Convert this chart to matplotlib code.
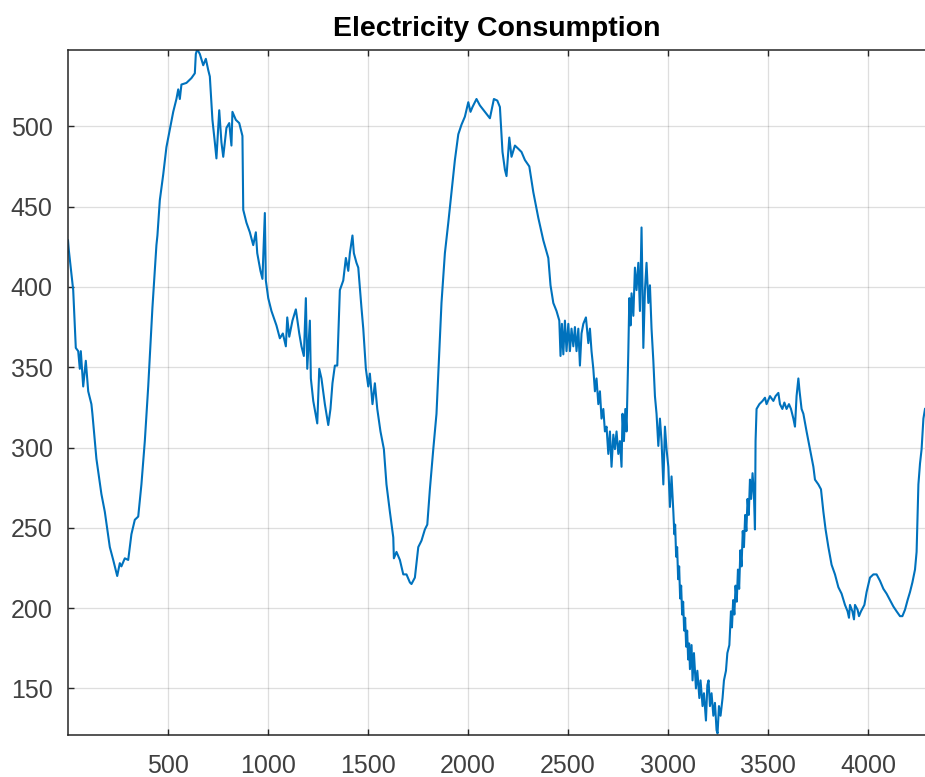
import matplotlib
matplotlib.use("Agg")
import matplotlib.pyplot as plt

# sample index and consumption
sample = [
    1, 5, 27, 40, 52, 60, 65, 77, 90, 102, 118, 123, 143, 168, 185, 210, 227, 247,
    260, 268, 285, 302, 318, 335, 352, 368, 385, 402, 423, 443, 448, 460, 477, 493,
    510, 527, 543, 552, 560, 568, 593, 618, 635, 640, 647,
    660, 677, 690, 702, 710, 723, 735, 743, 757, 768, 777, 793, 807, 818, 823, 840,
    857, 873, 877, 893, 910, 927, 940, 947, 963, 973, 985, 990, 1002, 1018, 1043,
    1060, 1075, 1090, 1097, 1107, 1123, 1140, 1157, 1168, 1180, 1190, 1197, 1210,
    1215, 1227, 1247, 1257, 1268, 1285, 1302, 1313, 1323, 1335, 1347,
    1360, 1377, 1390, 1402, 1410, 1423, 1430, 1443, 1452, 1468, 1477, 1490, 1502,
    1510, 1523, 1535, 1547, 1563, 1580, 1593, 1610, 1627, 1630, 1643, 1660, 1677,
    1693, 1710, 1718, 1735, 1752, 1768, 1785, 1797, 1810, 1827, 1843, 1857, 1868,
    1885, 1902, 1918, 1935, 1952, 1968, 1985, 2002, 2013, 2023, 2043,
    2060, 2085, 2110, 2130, 2147, 2160, 2173, 2185, 2193, 2207, 2218, 2235, 2252,
    2268, 2285, 2307, 2327, 2352, 2377, 2402, 2413, 2427, 2443, 2457, 2463, 2470,
    2477, 2485, 2493, 2502, 2510, 2518, 2527, 2535, 2543, 2552, 2560, 2568, 2577,
    2590, 2602, 2610, 2618, 2627, 2635, 2643, 2652, 2660, 2668, 2677, 2685, 2693,
    2702, 2710, 2718, 2727, 2735, 2743, 2752,
    2760, 2768, 2773, 2780, 2787, 2793, 2802, 2807, 2813, 2818, 2827, 2835, 2843,
    2852, 2860, 2868, 2873, 2877, 2885, 2893, 2902, 2910, 2918, 2927, 2935, 2943,
    2952, 2960, 2968, 2977, 2985, 2993, 3002, 3010, 3018,
    3027, 3032, 3036, 3041, 3046, 3051, 3056, 3061, 3066, 3071, 3076, 3081, 3086,
    3091, 3096, 3101, 3106, 3110,
    3118, 3123, 3130, 3140, 3147, 3157,
    3163, 3173, 3180, 3190, 3197, 3203, 3210, 3218, 3227, 3235, 3243, 3248, 3255,
    3263, 3273, 3280, 3290, 3297, 3307,
    3310, 3315, 3320, 3326, 3332, 3338, 3344, 3350, 3356, 3362, 3368, 3374, 3380,
    3386, 3392, 3398, 3404, 3410, 3416, 3423, 3430,
    3435, 3438, 3443, 3457, 3473,
    3485, 3493, 3510, 3527, 3538, 3552, 3560, 3572, 3582, 3593, 3605, 3615, 3627,
    3635, 3643, 3652, 3658, 3668, 3677, 3693, 3710, 3727, 3735, 3752, 3765, 3777,
    3788, 3802, 3818, 3835, 3852, 3868, 3885, 3898, 3905, 3910, 3922, 3930, 3935,
    3948, 3955, 3965, 3982, 3993, 4010, 4027, 4043, 4060, 4077, 4093, 4110, 4127,
    4143, 4160, 4172, 4185, 4198, 4210, 4222, 4235, 4243, 4252, 4260, 4268, 4277,
    4285,
]
consumption = [
    429, 423, 398, 362, 360, 349, 360, 338, 354, 335, 327, 321, 293, 271, 260, 238, 230, 220,
    228, 226, 231, 230, 246, 255, 257, 277, 304, 338, 387, 426, 432, 454, 470, 487,
    498, 509, 517, 523, 517, 526, 527, 530, 533, 545, 548,
    545, 538, 542, 535, 531, 504, 490, 480, 510, 490, 481, 499, 502, 488, 509, 504,
    502, 494, 448, 440, 434, 426, 434, 421, 410, 405, 446, 404, 393, 385, 376,
    368, 371, 363, 381, 369, 379, 386, 371, 363, 357, 393, 349, 379,
    343, 329, 315, 349, 343, 327, 314, 324, 340, 351, 351,
    398, 404, 418, 410, 421, 432, 421, 415, 412, 387, 374, 349, 338,
    346, 327, 340, 324, 310, 299, 277, 260, 244, 231, 235, 230, 221,
    221, 216, 215, 219, 238, 242, 249, 252, 274, 299, 321, 360, 390,
    421, 440, 459, 479, 495, 501, 506, 515, 509, 512, 517,
    513, 509, 505, 517, 516, 512, 484, 473, 469, 493, 481, 488, 486,
    484, 479, 475, 459, 443, 429, 418, 401, 390, 385, 379, 357, 377,
    358, 379, 360, 377, 360, 374, 363, 375, 360, 374, 351, 371, 377,
    381, 365, 374, 360, 349, 335, 343, 327, 335, 318, 324, 310, 313,
    296, 310, 288, 308, 299, 310, 296,
    304, 288, 321, 304, 324, 310, 360, 393, 376, 396, 382, 412, 398,
    415, 385, 437, 398, 362, 398, 415, 390, 401, 374, 354, 332, 321,
    301, 318, 304, 277, 313, 299, 288, 263, 282,
    260, 246, 252, 232, 238, 218, 226, 206, 214, 196, 204, 186, 194,
    176, 186, 168, 178, 162,
    177, 155, 172, 150, 161, 144,
    155, 139, 147, 130, 152, 155, 139, 147, 133, 141, 124, 122, 139,
    133, 144, 155, 161, 172, 177,
    185, 198, 188, 205, 196, 214, 204, 224, 212, 236, 226, 248, 238,
    258, 248, 268, 258, 280, 268, 284, 270,
    249, 304, 324, 327, 329,
    331, 327, 332, 329, 332, 334, 327, 324, 328, 324, 327, 324, 318,
    313, 332, 343, 335, 324, 321, 310, 299, 288, 280, 277, 274, 260,
    249, 238, 227, 221, 213, 209, 202, 198, 194, 202, 198, 193, 202,
    199, 195, 198, 202, 210, 219, 221, 221, 217, 212, 209, 205, 201,
    198, 195, 195, 199, 205, 210, 216, 224, 235, 277, 290, 299, 318,
    324,
]
x_ticks = [500, 1000, 1500, 2000, 2500, 3000, 3500, 4000]
y_ticks = [150, 200, 250, 300, 350, 400, 450, 500]

plt.rcParams['font.family'] = ['Liberation Sans', 'DejaVu Sans']
ink = '#262626'

fig = plt.figure(figsize=(9.25, 7.77), dpi=100)
ax = fig.add_axes([68 / 925, 42 / 777, 857 / 925, 685 / 777])

ax.plot(sample, consumption, color='#0072BD', lw=1.5)

ax.set_xlim(1, 4285)
ax.set_ylim(121, 547.5)
ax.set_xticks(x_ticks)
ax.set_yticks(y_ticks)
ax.grid(True, color=ink, alpha=0.15, lw=0.9)
ax.set_axisbelow(True)

ax.tick_params(axis='both', direction='in', length=4, width=1, color=ink,
               labelcolor='#404040', labelsize=18, top=True, right=False)
ax.tick_params(axis='x', pad=14)
ax.tick_params(axis='y', pad=11)
for side in ['left', 'bottom', 'top']:
    ax.spines[side].set_color(ink)
    ax.spines[side].set_linewidth(1.1)
ax.spines['right'].set_visible(False)

ax.set_title('Electricity Consumption', fontsize=20.5, fontweight='bold',
             color='black', pad=10)

fig.savefig('out.png', dpi=100)
